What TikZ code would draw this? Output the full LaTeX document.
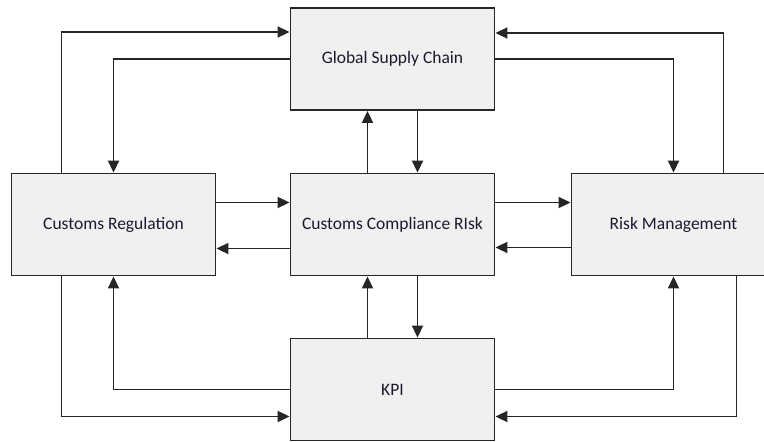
\documentclass[tikz,border=0pt]{standalone}
\usepackage{fontspec}
\setmainfont{Carlito}
\usetikzlibrary{arrows.meta}
\definecolor{boxfill}{HTML}{F0F0F0}
\definecolor{boxline}{HTML}{262626}
\definecolor{boxtext}{HTML}{1A1A2E}

\begin{document}
\begin{tikzpicture}[x=1pt,y=-1pt,
		blok/.style={draw=boxline, line width=1.9pt, fill=boxfill, minimum width=204pt, minimum height=102pt, inner sep=0pt, text=boxtext, font=\fontsize{17.5}{20}\selectfont},
		link/.style={draw=boxline, line width=1.9pt, -{Triangle[length=12pt,width=11pt]}}]
		\useasboundingbox (0,0) rectangle (764,442);
		\node[blok] (gsc) at (392.5,59) {Global Supply Chain};
		\node[blok] (cr) at (113.5,224.5) {Customs Regulation};
		\node[blok] (ccr) at (392.5,224.5) {Customs Compliance RIsk};
		\node[blok] (rm) at (673.5,224.5) {Risk Management};
		\node[blok] (kpi) at (392.5,389.5) {KPI};
		\draw[link] ([xshift=-52pt]cr.north) |- ([yshift=27pt]gsc.west);
		\draw[link] (gsc.west) -| (cr.north);
		\draw[link] ([xshift=-25pt]ccr.north) -- ([xshift=-25pt]gsc.south);
		\draw[link] ([xshift=25pt]gsc.south) -- ([xshift=25pt]ccr.north);
		\draw[link] (gsc.east) -| (rm.north);
		\draw[link] ([xshift=50pt]rm.north) |- ([yshift=26pt]gsc.east);
		\draw[link] ([yshift=22pt]cr.east) -- ([yshift=22pt]ccr.west);
		\draw[link] ([yshift=-24pt]ccr.west) -- ([yshift=-24pt]cr.east);
		\draw[link] ([yshift=22pt]ccr.east) -- ([yshift=22pt]rm.west);
		\draw[link] ([yshift=-23pt]rm.west) -- ([yshift=-23pt]ccr.east);
		\draw[link] ([xshift=-25pt]kpi.north) -- ([xshift=-25pt]ccr.south);
		\draw[link] ([xshift=25pt]ccr.south) -- ([xshift=25pt]kpi.north);
		\draw[link] (kpi.west) -| (cr.south);
		\draw[link] ([xshift=-52pt]cr.south) |- ([yshift=-27pt]kpi.west);
		\draw[link] (kpi.east) -| (rm.south);
		\draw[link] ([xshift=63pt]rm.south) |- ([yshift=-27pt]kpi.east);
\end{tikzpicture}
\end{document}
